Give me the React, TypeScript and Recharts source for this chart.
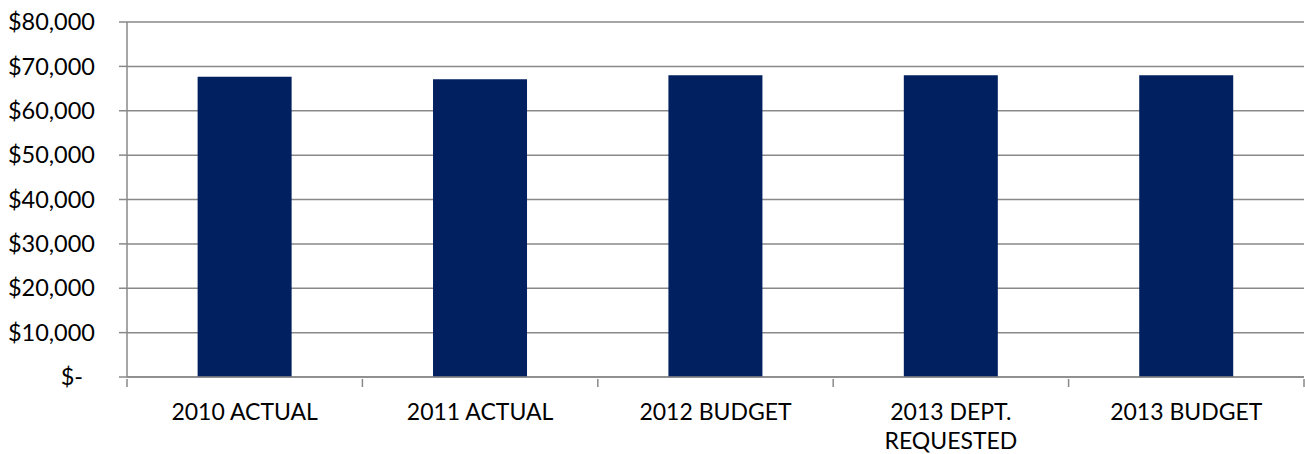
import React from "react";
import { Bar, BarChart, CartesianGrid, XAxis, YAxis } from "recharts";

const categories = ["2010 ACTUAL", "2011 ACTUAL", "2012 BUDGET", "2013 DEPT.\nREQUESTED", "2013 BUDGET"];
const amounts = [67650, 67100, 68000, 68000, 68000];
const yTicks = [0, 10000, 20000, 30000, 40000, 50000, 60000, 70000, 80000];

const data = categories.map((name, i) => ({ name, amount: amounts[i] }));

const FONT = "Lato, 'Open Sans', sans-serif";
const GRID = "#898989";

function formatMoney(v: number): string {
  return v === 0 ? "$-" : "$" + v.toLocaleString("en-US");
}

function YTick(props: any) {
  const { x, y, payload } = props;
  const zero = payload.value === 0;
  return (
    <text
      x={x}
      y={y}
      dx={zero ? -12 : 0}
      dy="0.35em"
      textAnchor="end"
      fontFamily={FONT}
      fontSize={23.5}
      fill="#000"
    >
      {formatMoney(payload.value)}
    </text>
  );
}

function XTick(props: any) {
  const { x, y, payload, index, visibleTicksCount, width } = props;
  const count = visibleTicksCount || categories.length;
  const band = width ? width / count : 235.4;
  const lines = String(payload.value).split("\n");
  const axisY = y - 8;
  return (
    <g>
      <line x1={x - band / 2} x2={x - band / 2} y1={axisY} y2={axisY + 8} stroke={GRID} strokeWidth={1.5} />
      {index === count - 1 && (
        <line x1={x + band / 2} x2={x + band / 2} y1={axisY} y2={axisY + 8} stroke={GRID} strokeWidth={1.5} />
      )}
      <text x={x} y={axisY + 41} textAnchor="middle" fontFamily={FONT} fontSize={23} fill="#000">
        {lines.map((l, i) => (
          <tspan key={i} x={x} dy={i === 0 ? 0 : 29}>
            {l}
          </tspan>
        ))}
      </text>
    </g>
  );
}

export default function App() {
  return (
    <div style={{ position: "absolute", left: 0, top: 0, background: "#fff" }}>
      <BarChart
        width={1305}
        height={454}
        data={data}
        margin={{ top: 22, right: 1, bottom: 0, left: 0 }}
        barCategoryGap="30%"
      >
        <CartesianGrid vertical={false} stroke={GRID} strokeWidth={1.5} />
        <XAxis
          dataKey="name"
          height={77}
          axisLine={{ stroke: GRID, strokeWidth: 1.5 }}
          tickLine={false}
          tickSize={8}
          tick={<XTick />}
          interval={0}
        />
        <YAxis
          width={127}
          domain={[0, 80000]}
          ticks={yTicks}
          interval={0}
          axisLine={{ stroke: GRID, strokeWidth: 1.5 }}
          tickLine={{ stroke: GRID, strokeWidth: 1.5 }}
          tickSize={8}
          tickMargin={24}
          tick={<YTick />}
        />
        <Bar dataKey="amount" fill="#00205F" isAnimationActive={false} />
      </BarChart>
    </div>
  );
}
